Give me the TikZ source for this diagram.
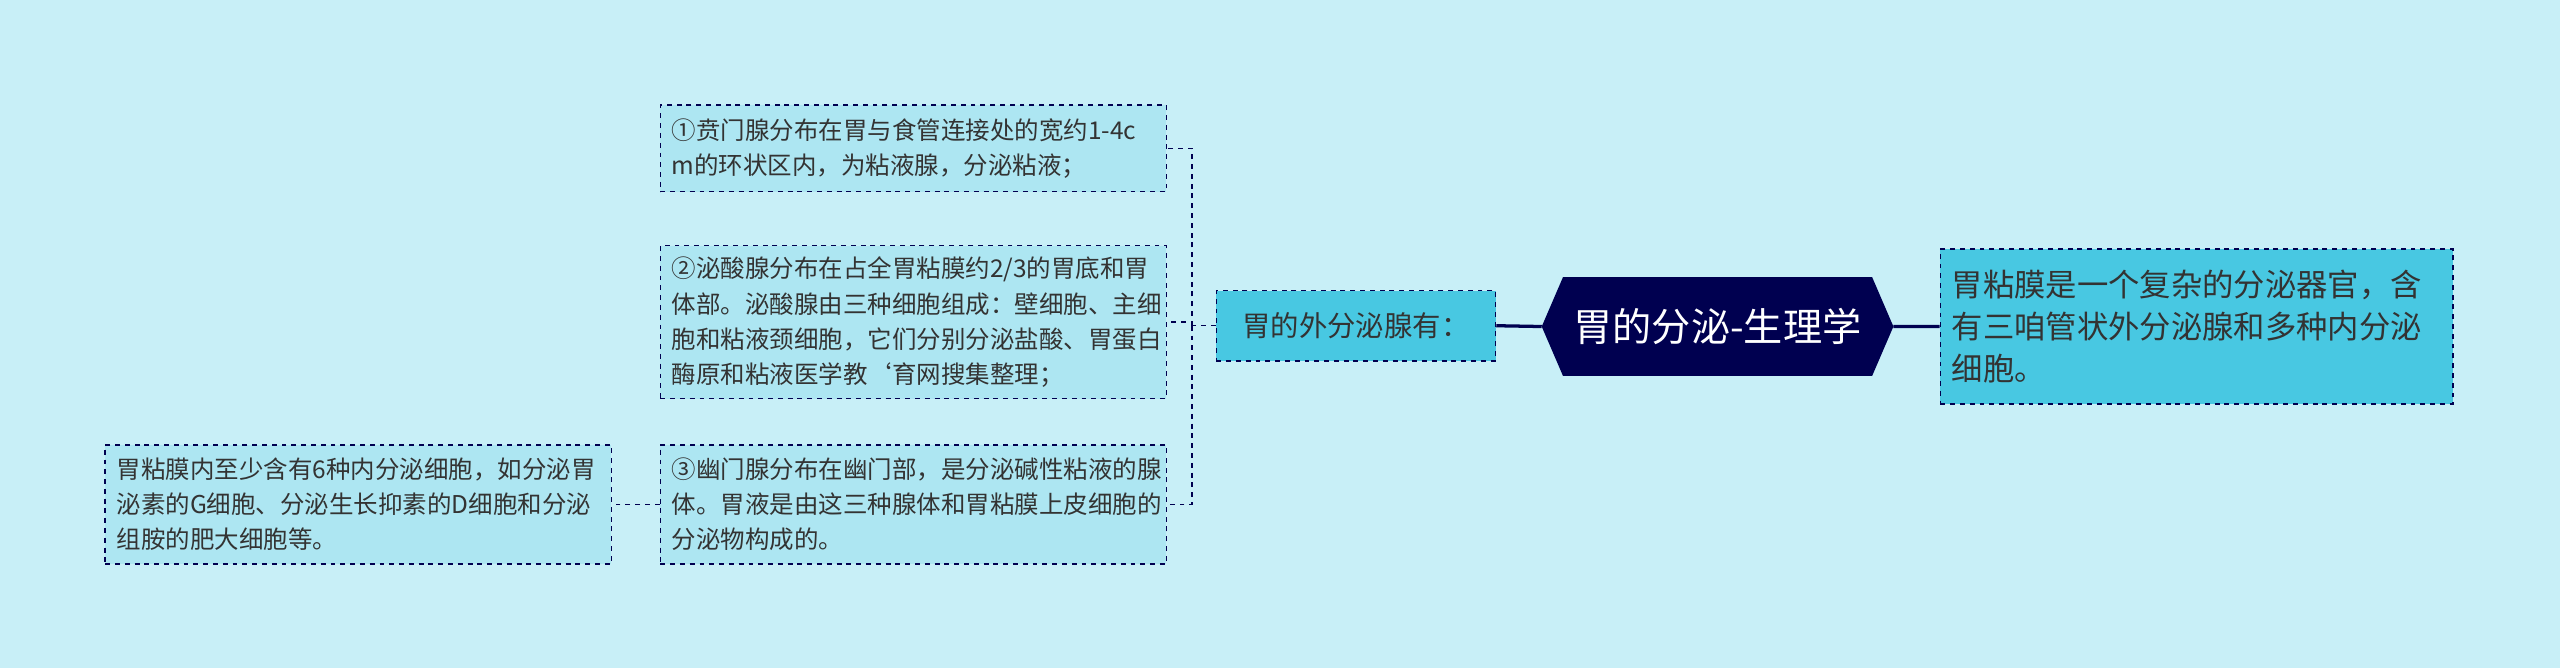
\documentclass[tikz,border=0pt]{standalone}
\usepackage{fontspec}
\setmainfont{Noto Sans CJK SC}
\usetikzlibrary{positioning}
\definecolor{bgcol}{HTML}{C8EFF7}
\definecolor{navy}{HTML}{000050}
\definecolor{cyanbox}{HTML}{48C8E2}
\definecolor{leafbox}{HTML}{ADE6F2}
\definecolor{txt}{HTML}{333333}
\tikzset{
  leaf/.style={draw=navy,dashed,line width=0.9pt,fill=leafbox,text=txt,align=left,
    text width=296pt,inner sep=7pt,font=\fontsize{15}{21.5}\selectfont,anchor=north west},
  branch/.style={draw=navy,dashed,line width=0.9pt,fill=cyanbox,text=txt,align=left,inner sep=7pt},
  link/.style={navy,dashed,line width=0.9pt}
}
\begin{document}
\begin{tikzpicture}[x=1pt,y=-1pt,line cap=butt,line join=miter]
    \fill[bgcol] (0,0) rectangle (1568,409);
    \useasboundingbox (0,0) rectangle (1568,409);
    % root
    \node[minimum width=215pt,minimum height=60pt,inner sep=0pt] (root) at (1052,200) {};
    \fill[navy] (root.west) -- ([xshift=13pt]root.north west) -- ([xshift=-13pt]root.north east)
        -- (root.east) -- ([xshift=-13pt]root.south east) -- ([xshift=13pt]root.south west) -- cycle;
    \node[text=white,font=\fontsize{24}{28}\selectfont] at (root) {胃的分泌-生理学};
    % right side
    \node[branch,text width=300pt,minimum height=95pt,font=\fontsize{19.2}{25.5}\selectfont,anchor=north west] (mucosa) at (1188,152)
        {胃粘膜是一个复杂的分泌器官，含\\有三咱管状外分泌腺和多种内分泌\\细胞。};
    % left side
    \node[branch,minimum width=171pt,minimum height=43pt,font=\fontsize{17.4}{22}\selectfont] (ext) at (830.5,199.5) {胃的外分泌腺有：};
    \node[leaf,minimum height=53pt] (cardia) at (404,64) {①贲门腺分布在胃与食管连接处的宽约1-4c\\m的环状区内，为粘液腺，分泌粘液；};
    \node[leaf,minimum height=90pt] (fundic) at (404,150) {②泌酸腺分布在占全胃粘膜约2/3的胃底和胃\\体部。泌酸腺由三种细胞组成：壁细胞、主细\\胞和粘液颈细胞，它们分别分泌盐酸、胃蛋白\\酶原和粘液医学教`育网搜集整理；};
    \node[leaf,minimum height=73pt] (pylorus) at (404,272) {③幽门腺分布在幽门部，是分泌碱性粘液的腺\\体。胃液是由这三种腺体和胃粘膜上皮细胞的\\分泌物构成的。};
    \node[leaf,minimum height=73pt] (endo) at (64,272) {胃粘膜内至少含有6种内分泌细胞，如分泌胃\\泌素的G细胞、分泌生长抑素的D细胞和分泌\\组胺的肥大细胞等。};
    % connectors
    \draw[navy,line width=2pt] (root.west) -- (ext.east);
    \draw[navy,line width=2pt] (root.east) -- (mucosa.west);
    \coordinate (fork) at (730,199.5);
    \draw[link] (ext.west) -- (fork);
    \draw[link] (fork) |- (cardia.east);
    \draw[link] (fork) |- (fundic.east);
    \draw[link] (fork) |- (pylorus.east);
    \draw[link] (pylorus.west) -- (endo.east);
\end{tikzpicture}
\end{document}
